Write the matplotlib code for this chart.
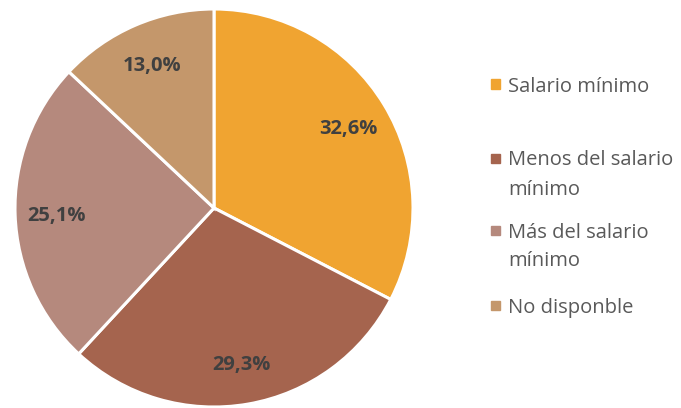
import matplotlib
matplotlib.use('Agg')
import matplotlib.pyplot as plt
from matplotlib.patches import Rectangle

# datos
categorias = ['Salario mínimo', 'Menos del salario\nmínimo', 'Más del salario\nmínimo', 'No disponble']
valores = [32.6, 29.3, 25.1, 13.0]
colores = ['#F0A431', '#A5644E', '#B5897D', '#C4976B']

plt.rcParams['font.family'] = ['Open Sans', 'DejaVu Sans']

W, H = 681, 408
fig = plt.figure(figsize=(W / 100, H / 100), dpi=100)

# pastel: centro (214, 208) px, radio 199 px
cx, cy, r = 214, 208, 199
ax = fig.add_axes([(cx - r) / W, (H - cy - r) / H, 2 * r / W, 2 * r / H])
wedges, textos, pcts = ax.pie(valores, colors=colores, startangle=90, counterclock=False,
                              autopct=lambda p: ('%.1f%%' % p).replace('.', ','),
                              pctdistance=0.79,
                              wedgeprops=dict(edgecolor='white', linewidth=2.2))
for t in pcts:
    t.set_fontsize(14.5)
    t.set_fontweight('bold')
    t.set_color('#404040')
    t.set_va('center_baseline')
ax.set_xlim(-1, 1)
ax.set_ylim(-1, 1)
ax.set_aspect('equal')

# leyenda a mano (Excel deja espacios desiguales)
ys = [84, 158, 230, 305]
salto = 29
for cat, col, y in zip(categorias, colores, ys):
    fig.patches.append(Rectangle((491 / W, (H - y - 4.5) / H), 9 / W, 9 / H,
                                 transform=fig.transFigure, color=col))
    for i, linea in enumerate(cat.split('\n')):
        fig.text(508 / W, (H - y - i * salto) / H, linea, fontsize=14.5, color='#595959',
                 va='center_baseline', ha='left')

plt.savefig('out.png', dpi=100)
